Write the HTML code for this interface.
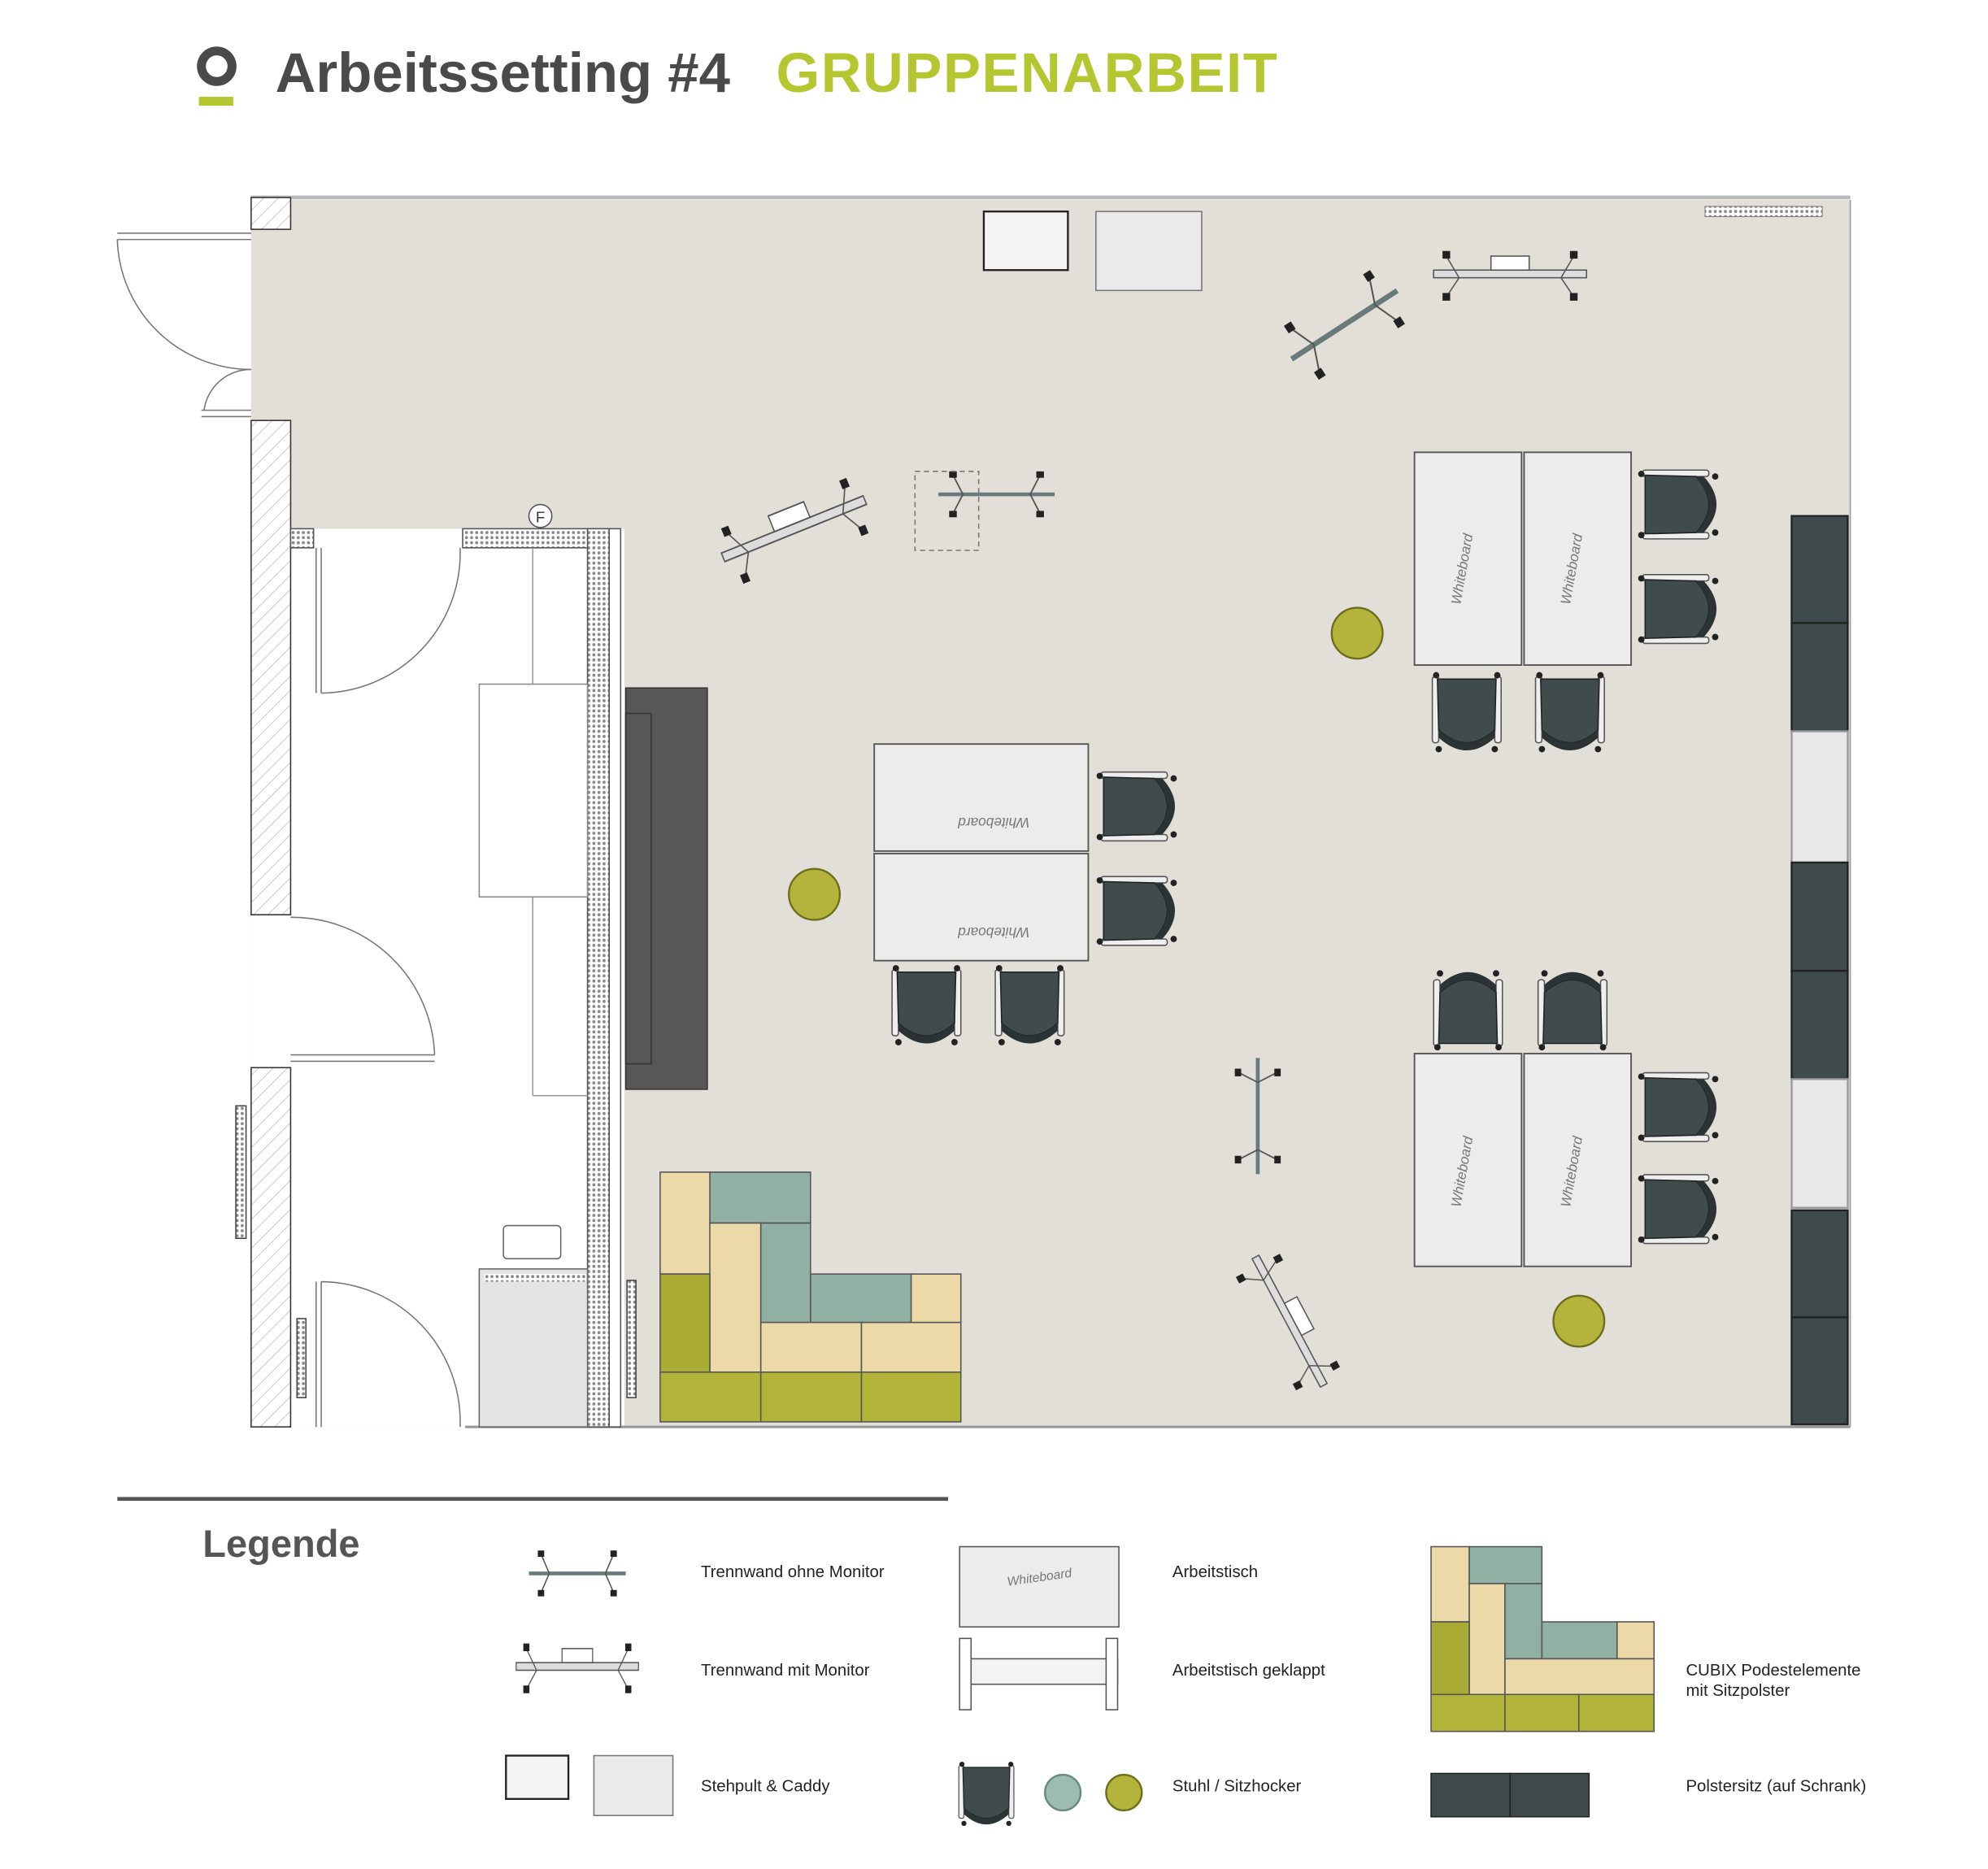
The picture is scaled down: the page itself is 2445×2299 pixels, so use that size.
<!DOCTYPE html>
<html><head><meta charset="utf-8"><style>
html,body{margin:0;padding:0;background:#fff;}
svg{display:block;}
text{font-family:"Liberation Sans",sans-serif;}
</style></head><body>
<svg width="2445" height="2299" viewBox="0 0 1560 1467" xmlns="http://www.w3.org/2000/svg">
<defs>
<pattern id="hatch" width="8" height="8" patternUnits="userSpaceOnUse" patternTransform="rotate(45)">
<rect width="8" height="8" fill="#fff"/><line x1="0" y1="0" x2="0" y2="8" stroke="#bbb" stroke-width="1"/></pattern>
<pattern id="dots" width="4" height="4" patternUnits="userSpaceOnUse"><rect width="4" height="4" fill="#fff"/><circle cx="2" cy="2" r="1.2" fill="#888"/></pattern>
<g id="ch">
<rect x="-27" y="-28" width="5" height="52" rx="2" fill="#eee" stroke="#555" stroke-width="1"/>
<rect x="22" y="-28" width="5" height="52" rx="2" fill="#eee" stroke="#555" stroke-width="1"/>
<path d="M-23,-26 L23,-26 L22,14 Q0,34 -22,14 Z" fill="#404b4c" stroke="#222" stroke-width="1"/>
<path d="M-22,14 Q0,34 22,14 L22,20 Q0,40 -22,20 Z" fill="#2b3334"/>
<circle cx="-24" cy="-29" r="2.5" fill="#222"/><circle cx="24" cy="-29" r="2.5" fill="#222"/>
<circle cx="-22" cy="29" r="2.5" fill="#222"/><circle cx="22" cy="29" r="2.5" fill="#222"/>
</g>
<g id="tw">
<line x1="-38" y1="0" x2="38" y2="0" stroke="#6a7a7a" stroke-width="3"/>
<line x1="-22" y1="0" x2="-28" y2="-14" stroke="#555"/><line x1="-22" y1="0" x2="-28" y2="14" stroke="#555"/>
<line x1="22" y1="0" x2="28" y2="-14" stroke="#555"/><line x1="22" y1="0" x2="28" y2="14" stroke="#555"/>
<rect x="-31" y="-18" width="5" height="5" fill="#222"/><rect x="-31" y="13" width="5" height="5" fill="#222"/>
<rect x="26" y="-18" width="5" height="5" fill="#222"/><rect x="26" y="13" width="5" height="5" fill="#222"/>
</g>
<g id="twm">
<rect x="-60" y="-3" width="120" height="6" fill="#ddd" stroke="#555"/>
<rect x="-15" y="-14" width="30" height="11" fill="#fff" stroke="#555"/>
<line x1="-40" y1="3" x2="-50" y2="-14" stroke="#555"/><line x1="-40" y1="3" x2="-50" y2="18" stroke="#555"/>
<line x1="40" y1="3" x2="50" y2="-14" stroke="#555"/><line x1="40" y1="3" x2="50" y2="18" stroke="#555"/>
<rect x="-53" y="-18" width="6" height="6" fill="#222"/><rect x="-53" y="15" width="6" height="6" fill="#222"/>
<rect x="47" y="-18" width="6" height="6" fill="#222"/><rect x="47" y="15" width="6" height="6" fill="#222"/>
</g>
</defs>

<!-- Title -->
<circle cx="170" cy="52" r="12" fill="none" stroke="#4a4a4a" stroke-width="7"/>
<rect x="156" y="76" width="27" height="7" fill="#b5c730"/>
<text x="216" y="72" font-size="44" font-weight="bold" fill="#4a4a4a">Arbeitssetting #4</text>
<text x="609" y="72" font-size="44" font-weight="bold" fill="#b5c730" letter-spacing="1">GRUPPENARBEIT</text>

<!-- Floor -->
<rect x="197" y="157" width="1255" height="963" fill="#e1dfd8"/>
<rect x="228" y="415" width="262" height="705" fill="#fff"/>
<rect x="197" y="718" width="31" height="120" fill="#fff"/>
<rect x="197" y="180" width="31" height="150" fill="#e1dfd8"/>
<line x1="197" y1="155" x2="1452" y2="155" stroke="#bbb" stroke-width="3"/>
<line x1="1452" y1="157" x2="1452" y2="1120" stroke="#999" stroke-width="1"/>
<line x1="365" y1="1120" x2="1452" y2="1120" stroke="#999" stroke-width="2"/>
<rect x="1338" y="162" width="92" height="8" fill="url(#dots)" stroke="#666" stroke-width="0.5"/>
<!-- walls -->
<rect x="197" y="155" width="31" height="25" fill="url(#hatch)" stroke="#333"/>
<rect x="197" y="330" width="31" height="388" fill="url(#hatch)" stroke="#333"/>
<rect x="197" y="838" width="31" height="282" fill="url(#hatch)" stroke="#333"/>
<rect x="185" y="868" width="8" height="104" fill="url(#dots)" stroke="#444"/>
<rect x="233" y="1035" width="7" height="62" fill="url(#dots)" stroke="#444"/>
<rect x="492" y="1005" width="7" height="92" fill="url(#dots)" stroke="#444"/>
<!-- partition walls -->
<rect x="228" y="415" width="18" height="15" fill="url(#dots)" stroke="#555"/>
<rect x="363" y="415" width="115" height="15" fill="url(#dots)" stroke="#555"/>
<rect x="461" y="415" width="17" height="705" fill="url(#dots)" stroke="#555"/>
<rect x="478" y="415" width="9" height="705" fill="#fff" stroke="#555"/>
<circle cx="424" cy="405" r="9" fill="#fff" stroke="#555"/><text x="424" y="410" font-size="12" text-anchor="middle" fill="#333">F</text>
<!-- corridor furniture -->
<rect x="376" y="537" width="85" height="167" fill="#fff" stroke="#888"/>
<line x1="418" y1="430" x2="418" y2="537" stroke="#999"/><line x1="418" y1="704" x2="418" y2="860" stroke="#999"/>
<line x1="418" y1="860" x2="461" y2="860" stroke="#999"/>
<rect x="376" y="996" width="85" height="124" fill="#e4e4e4" stroke="#666"/>
<rect x="380" y="1000" width="80" height="6" fill="url(#dots)"/>
<rect x="395" y="962" width="45" height="26" rx="3" fill="#fff" stroke="#666"/>
<!-- doors -->
<line x1="92" y1="183" x2="197" y2="183" stroke="#777"/><line x1="92" y1="188" x2="197" y2="188" stroke="#777"/>
<path d="M92,188 A105,105 0 0 0 197,290" fill="none" stroke="#777"/>
<line x1="158" y1="322" x2="197" y2="322" stroke="#777"/><line x1="158" y1="327" x2="197" y2="327" stroke="#777"/>
<path d="M197,290 A37,37 0 0 0 160,322" fill="none" stroke="#777"/>
<line x1="248" y1="430" x2="248" y2="544" stroke="#777"/><line x1="252" y1="430" x2="252" y2="544" stroke="#777"/>
<path d="M252,544 A110,110 0 0 0 361,430" fill="none" stroke="#777"/>
<line x1="228" y1="828" x2="341" y2="828" stroke="#777"/><line x1="228" y1="833" x2="341" y2="833" stroke="#777"/>
<path d="M228,720 A112,112 0 0 1 341,828" fill="none" stroke="#777"/>
<line x1="248" y1="1006" x2="248" y2="1120" stroke="#777"/><line x1="252" y1="1006" x2="252" y2="1120" stroke="#777"/>
<path d="M252,1006 A110,110 0 0 1 361,1120" fill="none" stroke="#777"/>
<!-- dark block -->
<rect x="491" y="540" width="64" height="315" fill="#575757" stroke="#333"/>
<rect x="491" y="560" width="20" height="275" fill="none" stroke="#333"/>
<!-- right panels -->
<g stroke="#222" stroke-width="1.5">
<rect x="1406" y="405" width="44" height="84" fill="#3e4a4b"/><rect x="1406" y="489" width="44" height="85" fill="#3e4a4b"/>
<rect x="1406" y="574" width="44" height="103" fill="#e8e8e8" stroke="#999"/>
<rect x="1406" y="677" width="44" height="85" fill="#3e4a4b"/><rect x="1406" y="762" width="44" height="85" fill="#3e4a4b"/>
<rect x="1406" y="847" width="44" height="101" fill="#e8e8e8" stroke="#999"/>
<rect x="1406" y="950" width="44" height="84" fill="#3e4a4b"/><rect x="1406" y="1034" width="44" height="84" fill="#3e4a4b"/>
</g>
<!-- stehpult & caddy -->
<rect x="772" y="166" width="66" height="46" fill="#f3f3f3" stroke="#222" stroke-width="1.5"/>
<rect x="860" y="166" width="83" height="62" fill="#eaeaea" stroke="#777"/>
<!-- partitions -->
<use href="#twm" transform="translate(1185,215)"/>
<use href="#tw" transform="translate(1055,255) rotate(-33) scale(1.3,1.4)"/>
<use href="#twm" transform="translate(623,415) rotate(-22) scale(1,1.2)"/>
<use href="#tw" transform="translate(782,388) scale(1.2,1)"/>
<rect x="718" y="370" width="50" height="62" fill="none" stroke="#777" stroke-dasharray="4,3"/>
<use href="#tw" transform="translate(987,876) rotate(90) scale(1.2,1)"/>
<use href="#twm" transform="translate(1012,1037) rotate(62) scale(0.95,1)"/>
<!-- tables -->
<g fill="#ececec" stroke="#555" stroke-width="1.2">
<rect x="686" y="584" width="168" height="84"/><rect x="686" y="670" width="168" height="84"/>
<rect x="1110" y="355" width="84" height="167"/><rect x="1196" y="355" width="84" height="167"/>
<rect x="1110" y="827" width="84" height="167"/><rect x="1196" y="827" width="84" height="167"/>
</g>
<g font-size="11" fill="#777" font-style="italic">
<text transform="translate(808,642) rotate(180)">Whiteboard</text>
<text transform="translate(808,728) rotate(180)">Whiteboard</text>
<text transform="translate(1146,475) rotate(-80)">Whiteboard</text>
<text transform="translate(1232,475) rotate(-80)">Whiteboard</text>
<text transform="translate(1146,948) rotate(-80)">Whiteboard</text>
<text transform="translate(1232,948) rotate(-80)">Whiteboard</text>
</g>
<!-- chairs -->
<use href="#ch" transform="translate(892,633) rotate(-90)"/>
<use href="#ch" transform="translate(892,715) rotate(-90)"/>
<use href="#ch" transform="translate(727,789)"/>
<use href="#ch" transform="translate(808,789)"/>
<use href="#ch" transform="translate(1317,396) rotate(-90)"/>
<use href="#ch" transform="translate(1317,478) rotate(-90)"/>
<use href="#ch" transform="translate(1151,559)"/>
<use href="#ch" transform="translate(1232,559)"/>
<use href="#ch" transform="translate(1152,793) rotate(180)"/>
<use href="#ch" transform="translate(1234,793) rotate(180)"/>
<use href="#ch" transform="translate(1317,869) rotate(-90)"/>
<use href="#ch" transform="translate(1317,949) rotate(-90)"/>
<!-- stools -->
<g fill="#b4b43c" stroke="#6d6d1e" stroke-width="1.5">
<circle cx="639" cy="702" r="20"/><circle cx="1065" cy="497" r="20"/><circle cx="1239" cy="1037" r="20"/>
</g>
<!-- CUBIX -->
<g stroke="#555" stroke-width="1">
<rect x="518" y="920" width="40" height="80" fill="#ecd9a8"/>
<rect x="557" y="920" width="79" height="40" fill="#8fb0a2"/>
<rect x="557" y="960" width="40" height="117" fill="#ecd9a8"/>
<rect x="597" y="960" width="39" height="78" fill="#8fb0a2"/>
<rect x="636" y="1000" width="79" height="38" fill="#8fb0a2"/>
<rect x="715" y="1000" width="39" height="38" fill="#ecd9a8"/>
<rect x="597" y="1038" width="79" height="39" fill="#ecd9a8"/>
<rect x="676" y="1038" width="78" height="39" fill="#ecd9a8"/>
<rect x="518" y="1000" width="39" height="77" fill="#a9ab34"/>
<rect x="518" y="1077" width="79" height="39" fill="#b2b43a"/>
<rect x="597" y="1077" width="79" height="39" fill="#b2b43a"/>
<rect x="676" y="1077" width="78" height="39" fill="#b2b43a"/>
</g>
<!-- Legend -->
<rect x="92" y="1175" width="652" height="3" fill="#555"/>
<text x="159" y="1222" font-size="30" font-weight="bold" fill="#555">Legende</text>
<g font-size="13" fill="#222">
<text x="550" y="1238">Trennwand ohne Monitor</text>
<text x="550" y="1315">Trennwand mit Monitor</text>
<text x="550" y="1406">Stehpult &amp; Caddy</text>
<text x="920" y="1238">Arbeitstisch</text>
<text x="920" y="1315">Arbeitstisch geklappt</text>
<text x="920" y="1406">Stuhl / Sitzhocker</text>
<text x="1323" y="1315">CUBIX Podestelemente</text>
<text x="1323" y="1331">mit Sitzpolster</text>
<text x="1323" y="1406">Polstersitz (auf Schrank)</text>
</g>
<use href="#tw" transform="translate(453,1235)"/>
<use href="#twm" transform="translate(453,1308) scale(0.8,1)"/>
<rect x="397" y="1378" width="49" height="34" fill="#f3f3f3" stroke="#222" stroke-width="1.5"/>
<rect x="466" y="1378" width="62" height="47" fill="#eaeaea" stroke="#777"/>
<rect x="753" y="1214" width="125" height="63" fill="#ececec" stroke="#555"/>
<text x="790" y="1242" font-size="10" fill="#777" font-style="italic" transform="rotate(-8 810 1238)">Whiteboard</text>
<rect x="755" y="1302" width="122" height="20" fill="#f3f3f3" stroke="#555"/>
<rect x="753" y="1286" width="9" height="56" fill="#fff" stroke="#555"/>
<rect x="868" y="1286" width="9" height="56" fill="#fff" stroke="#555"/>
<use href="#ch" transform="translate(774,1408) scale(0.8)"/>
<circle cx="834" cy="1407" r="14" fill="#9cbcb0" stroke="#6a8a80" stroke-width="1.5"/>
<circle cx="882" cy="1407" r="14" fill="#b4b43c" stroke="#6d6d1e" stroke-width="1.5"/>
<g stroke="#555" stroke-width="1">
<rect x="1123" y="1214" width="30" height="59" fill="#ecd9a8"/>
<rect x="1153" y="1214" width="57" height="29" fill="#8fb0a2"/>
<rect x="1153" y="1243" width="28" height="87" fill="#ecd9a8"/>
<rect x="1181" y="1243" width="29" height="59" fill="#8fb0a2"/>
<rect x="1210" y="1273" width="59" height="29" fill="#8fb0a2"/>
<rect x="1269" y="1273" width="29" height="29" fill="#ecd9a8"/>
<rect x="1181" y="1302" width="117" height="28" fill="#ecd9a8"/>
<rect x="1123" y="1273" width="30" height="57" fill="#a9ab34"/>
<rect x="1123" y="1330" width="58" height="29" fill="#b2b43a"/>
<rect x="1181" y="1330" width="58" height="29" fill="#b2b43a"/>
<rect x="1239" y="1330" width="59" height="29" fill="#b2b43a"/>
</g>
<rect x="1123" y="1392" width="62" height="34" fill="#3e4a4b" stroke="#222"/>
<rect x="1185" y="1392" width="62" height="34" fill="#3e4a4b" stroke="#222"/>
</svg>
</body></html>
